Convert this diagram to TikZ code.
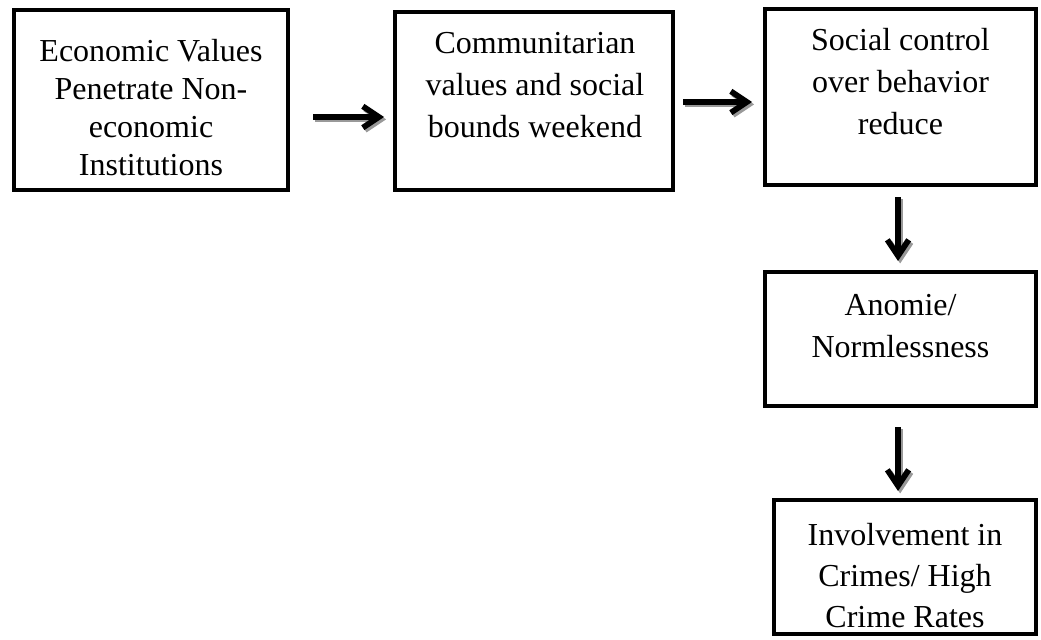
\documentclass[tikz,border=0pt]{standalone}
\usepackage{fontspec}
\setmainfont{Liberation Serif}
\usetikzlibrary{arrows.meta,fit}
\begin{document}
\begin{tikzpicture}[x=0.75pt,y=-0.75pt,
  box/.style={draw=black,line width=3pt,inner sep=0pt,fill=white},
  boxtext/.style={anchor=north,inner sep=0pt,align=center,font=\fontsize{24pt}{31.5pt}\selectfont},
  arr/.style={line width=4.3pt,-{Straight Barb[length=12pt,width=16pt]}},
  arrshadow/.style={arr,draw=black!40,transform canvas={shift={(1.6pt,-1.8pt)}}}]
\useasboundingbox (0,0) rectangle (1041,639);
% boxes
\node[box,fit={(14,10)(288,190)}] (b1) {};
\node[box,fit={(395,12)(673,190)}] (b2) {};
\node[box,fit={(765,9)(1036,185)}] (b3) {};
\node[box,fit={(765,272)(1036,406)}] (b4) {};
\node[box,fit={(774,500)(1036,634)}] (b5) {};
% texts
\node[boxtext,font=\fontsize{24pt}{28.5pt}\selectfont] (t1) at (151,34.4) {\strut Economic Values\\Penetrate Non-\\economic\\Institutions};
\node[boxtext] (t2) at (535,23.6) {\strut Communitarian\\values and social\\bounds weekend};
\node[boxtext] (t3) at (900.5,20.6) {\strut Social control\\over behavior\\reduce};
\node[boxtext] (t4) at (900.5,285.6) {\strut Anomie/\\Normlessness};
\node[boxtext,font=\fontsize{24pt}{30.75pt}\selectfont] (t5) at (905,516.3) {\strut Involvement in\\Crimes/ High\\Crime Rates};
% arrow ends
\coordinate (a1s) at (313,117);
\coordinate (a1e) at (384,117);
\coordinate (a2s) at (683,102);
\coordinate (a2e) at (752,102);
\coordinate (a3s) at (898,197);
\coordinate (a3e) at (898,261);
\coordinate (a4s) at (898,427);
\coordinate (a4e) at (898,491);
% shadows
\draw[arrshadow] (a1s) -- (a1e);
\draw[arrshadow] (a2s) -- (a2e);
\draw[arrshadow] (a3s) -- (a3e);
\draw[arrshadow] (a4s) -- (a4e);
% arrows
\draw[arr] (a1s) -- (a1e);
\draw[arr] (a2s) -- (a2e);
\draw[arr] (a3s) -- (a3e);
\draw[arr] (a4s) -- (a4e);
\end{tikzpicture}
\end{document}
